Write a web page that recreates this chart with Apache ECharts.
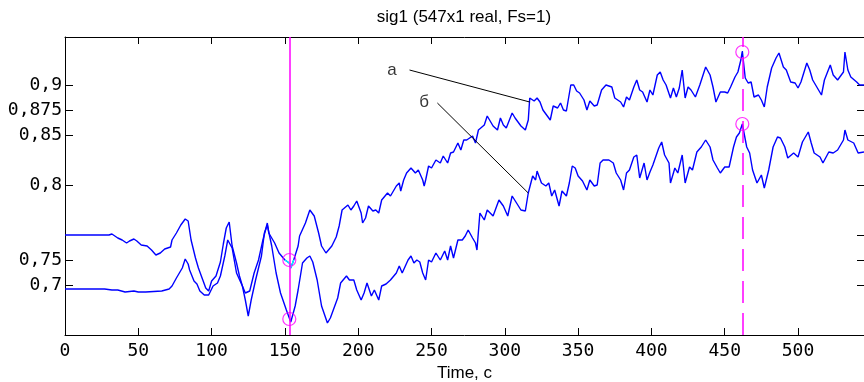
<!DOCTYPE html>
<html><head><meta charset="utf-8">
<script src="https://cdn.jsdelivr.net/npm/echarts@6/dist/echarts.min.js"></script>
<style>html,body{margin:0;padding:0;background:#fff}#c{width:864px;height:382px}</style>
</head><body><div id="c"></div>
<script>
// ---- data ----
const titleText = 'sig1 (547x1 real, Fs=1)';
const xName = 'Time, c';
const xTicks = [0,50,100,150,200,250,300,350,400,450,500];
const yTickValues = [0.7,0.725,0.8,0.85,0.875,0.9];
const yTickLabels = ['0,7','0,75','0,8','0,85','0,875','0,9'];
const yRightTicks = [0.7,0.725,0.75,0.8,0.85,0.875,0.9];

const seriesA = [[0,0.750],[30,0.750],[32,0.751],[34,0.749],[36,0.747],[39,0.745],[42,0.742],[44,0.744],[47,0.746],[49,0.744],[52,0.740],[56,0.739],[59,0.735],[62,0.730],[65,0.732],[68,0.736],[72,0.738],[73,0.745],[76,0.752],[79,0.760],[82,0.766],[84,0.764],[86,0.745],[89,0.727],[91,0.717],[94,0.705],[96,0.697],[98,0.694],[100,0.704],[103,0.709],[106,0.723],[108,0.741],[110,0.757],[112,0.763],[114,0.739],[117,0.722],[119,0.709],[121,0.699],[123,0.692],[126,0.694],[129,0.712],[132,0.725],[135,0.745],[138,0.762],[139,0.752],[143,0.742],[146,0.732],[150,0.725],[153,0.722],[154,0.717],[156,0.725],[159,0.739],[160,0.749],[164,0.762],[167,0.775],[170,0.769],[173,0.752],[175,0.739],[178,0.732],[182,0.739],[185,0.748],[187,0.759],[189,0.775],[193,0.780],[195,0.775],[197,0.779],[199,0.784],[202,0.772],[203,0.762],[205,0.767],[207,0.779],[210,0.774],[212,0.775],[214,0.772],[216,0.785],[220,0.792],[222,0.789],[226,0.799],[228,0.802],[229,0.794],[231,0.805],[233,0.812],[236,0.817],[239,0.812],[241,0.815],[244,0.805],[245,0.799],[246,0.805],[248,0.819],[250,0.817],[253,0.825],[256,0.822],[258,0.829],[261,0.822],[263,0.832],[265,0.833],[268,0.842],[270,0.835],[272,0.845],[274,0.845],[278,0.849],[280,0.842],[282,0.855],[286,0.860],[288,0.869],[290,0.864],[292,0.859],[295,0.855],[297,0.867],[299,0.860],[301,0.857],[305,0.872],[307,0.867],[311,0.859],[314,0.855],[316,0.865],[317,0.887],[320,0.884],[322,0.887],[324,0.883],[326,0.875],[329,0.869],[331,0.865],[333,0.879],[336,0.877],[338,0.882],[340,0.875],[342,0.874],[345,0.900],[347,0.900],[349,0.894],[351,0.892],[354,0.885],[356,0.875],[358,0.884],[361,0.879],[363,0.880],[366,0.895],[369,0.900],[373,0.898],[375,0.887],[379,0.883],[381,0.878],[383,0.888],[385,0.885],[388,0.898],[390,0.905],[392,0.895],[394,0.893],[397,0.883],[399,0.895],[401,0.890],[404,0.910],[406,0.913],[408,0.905],[410,0.900],[413,0.887],[415,0.897],[417,0.888],[419,0.897],[421,0.915],[423,0.887],[425,0.898],[427,0.895],[430,0.888],[433,0.900],[437,0.918],[440,0.910],[442,0.898],[444,0.883],[447,0.893],[450,0.893],[452,0.892],[454,0.898],[457,0.908],[459,0.913],[461,0.925],[462,0.934],[464,0.907],[466,0.902],[468,0.903],[470,0.888],[473,0.890],[475,0.885],[477,0.878],[479,0.898],[482,0.917],[485,0.927],[487,0.932],[490,0.918],[492,0.915],[495,0.903],[498,0.902],[500,0.897],[502,0.903],[506,0.922],[508,0.915],[510,0.905],[514,0.895],[516,0.890],[518,0.905],[522,0.920],[524,0.910],[527,0.905],[531,0.913],[532,0.933],[534,0.915],[536,0.908],[540,0.903],[542,0.900],[545,0.900]];

const seriesB = [[0,0.696],[27,0.696],[32,0.695],[36,0.695],[41,0.693],[47,0.694],[50,0.693],[55,0.693],[66,0.694],[71,0.696],[73,0.699],[76,0.707],[80,0.717],[82,0.726],[84,0.721],[85,0.715],[88,0.704],[90,0.701],[92,0.694],[95,0.690],[98,0.690],[101,0.699],[104,0.702],[106,0.709],[109,0.729],[111,0.745],[114,0.737],[117,0.712],[121,0.699],[123,0.685],[125,0.669],[127,0.685],[130,0.705],[134,0.729],[136,0.752],[138,0.760],[141,0.739],[144,0.712],[147,0.692],[151,0.675],[153,0.667],[154,0.663],[157,0.679],[159,0.695],[162,0.722],[165,0.727],[167,0.729],[169,0.723],[172,0.705],[175,0.679],[179,0.662],[181,0.667],[183,0.675],[186,0.687],[188,0.702],[192,0.709],[194,0.705],[197,0.705],[199,0.695],[202,0.685],[204,0.692],[206,0.702],[209,0.689],[211,0.695],[214,0.685],[216,0.699],[219,0.701],[222,0.705],[226,0.712],[228,0.719],[230,0.712],[234,0.725],[236,0.729],[238,0.722],[240,0.725],[242,0.723],[244,0.712],[246,0.705],[248,0.725],[250,0.723],[253,0.732],[256,0.725],[259,0.734],[261,0.725],[263,0.739],[265,0.727],[268,0.745],[271,0.745],[273,0.749],[275,0.755],[278,0.747],[280,0.742],[281,0.735],[283,0.772],[286,0.765],[288,0.775],[290,0.772],[292,0.769],[296,0.785],[299,0.779],[302,0.769],[305,0.789],[308,0.782],[311,0.775],[314,0.774],[316,0.792],[319,0.809],[321,0.805],[322,0.814],[325,0.802],[328,0.799],[330,0.802],[332,0.789],[334,0.795],[337,0.779],[339,0.794],[342,0.789],[344,0.802],[346,0.819],[348,0.817],[350,0.809],[353,0.804],[356,0.795],[358,0.805],[361,0.799],[363,0.800],[365,0.822],[367,0.825],[371,0.825],[374,0.822],[376,0.812],[379,0.805],[381,0.795],[383,0.812],[385,0.815],[388,0.828],[390,0.830],[392,0.807],[395,0.822],[397,0.805],[399,0.813],[401,0.820],[405,0.837],[407,0.843],[409,0.830],[412,0.822],[413,0.802],[416,0.817],[418,0.812],[421,0.830],[423,0.802],[426,0.818],[428,0.815],[431,0.833],[434,0.838],[437,0.845],[440,0.838],[442,0.825],[445,0.817],[447,0.812],[450,0.818],[453,0.818],[456,0.838],[458,0.848],[460,0.852],[462,0.861],[465,0.838],[467,0.832],[469,0.815],[472,0.802],[475,0.810],[477,0.797],[480,0.815],[483,0.838],[486,0.848],[488,0.847],[491,0.838],[493,0.827],[497,0.832],[500,0.828],[503,0.843],[507,0.853],[509,0.842],[511,0.832],[515,0.828],[517,0.822],[521,0.833],[524,0.832],[527,0.835],[531,0.845],[532,0.855],[534,0.845],[538,0.842],[541,0.832],[545,0.833]];

const markerTimes = [153, 462];
const markerA = [0.725, 0.933];
const markerB = [0.666, 0.861];
const highlightRange = [150, 156];

const annotTexts = ['a', 'б'];
const annotTextPos = [[223, 0.915], [245, 0.883]];
const annotLineFrom = [[235, 0.915], [254, 0.882]];
const annotLineTo = [[317, 0.883], [316, 0.792]];

// ---- chart ----
const X_MIN = 0, X_MAX = 545, Y_MIN = 0.65, Y_MAX = 0.948;
const BLUE = '#0000ff', MAG = '#ff00ff';
const tickFont = 'DejaVu Sans Mono';
const chart = echarts.init(document.getElementById('c'), null, {renderer: 'canvas'});

const axisCommon = {
  type: 'value', splitLine: {show: false},
  axisLine: {show: true, onZero: false, lineStyle: {color: '#000', width: 1}},
};

const series = [
  {type: 'line', data: seriesA, showSymbol: false, symbol: 'none', lineStyle: {color: BLUE, width: 1.4}, z: 3,
   markLine: {silent: true, symbol: 'none', label: {show: false}, lineStyle: {color: MAG, width: 1.5, type: 'solid'},
     emphasis: {disabled: true},
     data: [
       {xAxis: markerTimes[0], lineStyle: {color: MAG, width: 1.5, type: 'solid'}},
       {xAxis: markerTimes[1], lineStyle: {color: MAG, width: 1.5, type: [22, 10]}}
     ]}},
  {type: 'line', data: seriesB, showSymbol: false, symbol: 'none', lineStyle: {color: BLUE, width: 1.4}, z: 3},
  {type: 'line', data: seriesA.filter(p => p[0] >= highlightRange[0] && p[0] <= highlightRange[1]),
   showSymbol: false, symbol: 'none', lineStyle: {color: '#00ffff', width: 1.4}, z: 4},
  {type: 'scatter', symbol: 'circle', symbolSize: 13, z: 5,
   itemStyle: {color: 'rgba(0,0,0,0)', borderColor: MAG, borderWidth: 1.2},
   data: markerTimes.map((t, i) => [t, markerA[i]]).concat(markerTimes.map((t, i) => [t, markerB[i]]))},
];
annotTexts.forEach((txt, i) => {
  series.push({type: 'line', data: [annotLineFrom[i], annotLineTo[i]], showSymbol: false, symbol: 'none',
    lineStyle: {color: '#000', width: 1}, z: 6});
});
series.push({type: 'scatter', symbolSize: 1, itemStyle: {color: 'rgba(0,0,0,0)'}, z: 6,
  data: annotTexts.map((t, i) => ({name: t, value: annotTextPos[i]})),
  label: {show: true, position: 'inside', formatter: '{b}', color: '#000', fontFamily: 'Liberation Sans', fontSize: 17}});

chart.setOption({
  animation: false,
  backgroundColor: '#fff',
  title: {text: titleText, left: 464, top: 9, textAlign: 'center', padding: 0,
    textStyle: {fontFamily: 'Liberation Sans', fontSize: 17, fontWeight: 'normal', color: '#000'}},
  grid: {left: 65, right: 0, top: 37, bottom: 47, containLabel: false, outerBoundsMode: 'none'},
  xAxis: [
    Object.assign({}, axisCommon, {min: X_MIN, max: X_MAX, position: 'bottom',
      axisTick: {show: true, inside: true, length: 7, customValues: xTicks, lineStyle: {color: '#000'}},
      axisLabel: {show: true, customValues: xTicks, color: '#000', fontFamily: tickFont, fontSize: 18, margin: 7},
      name: xName, nameLocation: 'middle', nameGap: 30,
      nameTextStyle: {fontFamily: 'Liberation Sans', fontSize: 17, color: '#000'}}),
    Object.assign({}, axisCommon, {min: X_MIN, max: X_MAX, position: 'top',
      axisTick: {show: true, inside: true, length: 7, customValues: xTicks, lineStyle: {color: '#000'}},
      axisLabel: {show: false}})
  ],
  yAxis: [
    Object.assign({}, axisCommon, {min: Y_MIN, max: Y_MAX, position: 'left',
      axisTick: {show: true, inside: true, length: 8, customValues: yTickValues, lineStyle: {color: '#000'}},
      axisLabel: {show: true, customValues: yTickValues, color: '#000', fontFamily: tickFont, fontSize: 18, margin: 3,
        formatter: v => { const i = yTickValues.findIndex(t => Math.abs(t - v) < 1e-6); return i >= 0 ? yTickLabels[i] : ''; }}}),
    Object.assign({}, axisCommon, {min: Y_MIN, max: Y_MAX, position: 'right',
      axisTick: {show: true, inside: true, length: 7, customValues: yRightTicks, lineStyle: {color: '#000'}},
      axisLabel: {show: false}})
  ],
  series: series
});
</script></body></html>
